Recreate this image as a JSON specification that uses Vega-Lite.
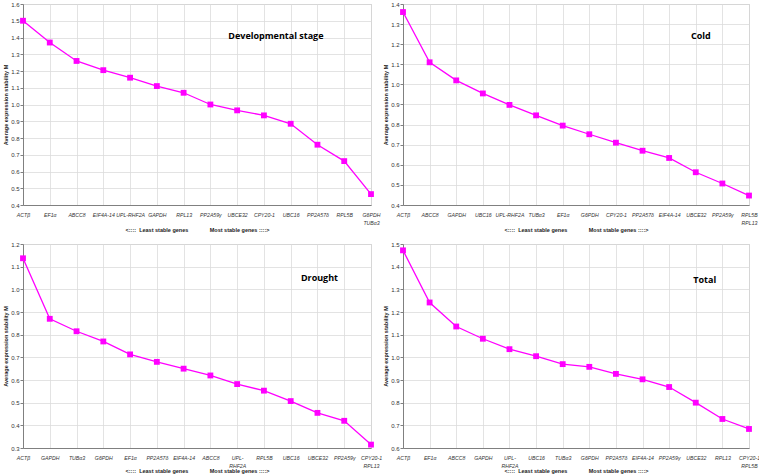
{
  "$schema": "https://vega.github.io/schema/vega-lite/v6.json",
  "padding": {"left": 3, "top": 0, "right": 0, "bottom": 0},
  "background": "white",
  "datasets": {
    "dev": [
      {"gene": "ACTβ", "M": 1.50},
      {"gene": "EF1α", "M": 1.37},
      {"gene": "ABCC8", "M": 1.26},
      {"gene": "EIF4A-14", "M": 1.205},
      {"gene": "UPL-RHF2A", "M": 1.16},
      {"gene": "GAPDH", "M": 1.11},
      {"gene": "RPL13", "M": 1.07},
      {"gene": "PP2A59γ", "M": 1.0},
      {"gene": "UBCE32", "M": 0.965},
      {"gene": "CPY20-1", "M": 0.935},
      {"gene": "UBC16", "M": 0.885},
      {"gene": "PP2A57δ", "M": 0.76},
      {"gene": "RPL5B", "M": 0.662},
      {"gene": "G6PDH|TUBα3", "M": 0.465}
    ],
    "cold": [
      {"gene": "ACTβ", "M": 1.36},
      {"gene": "ABCC8", "M": 1.11},
      {"gene": "GAPDH", "M": 1.02},
      {"gene": "UBC16", "M": 0.955},
      {"gene": "UPL-RHF2A", "M": 0.898},
      {"gene": "TUBα3", "M": 0.846},
      {"gene": "EF1α", "M": 0.795},
      {"gene": "G6PDH", "M": 0.752},
      {"gene": "CPY20-1", "M": 0.71},
      {"gene": "PP2A57δ", "M": 0.67},
      {"gene": "EIF4A-14", "M": 0.634},
      {"gene": "UBCE32", "M": 0.563},
      {"gene": "PP2A59γ", "M": 0.507},
      {"gene": "RPL5B|RPL13", "M": 0.447}
    ],
    "drought": [
      {"gene": "ACTβ", "M": 1.137},
      {"gene": "GAPDH", "M": 0.87},
      {"gene": "TUBα3", "M": 0.815},
      {"gene": "G6PDH", "M": 0.77},
      {"gene": "EF1α", "M": 0.713},
      {"gene": "PP2A57δ", "M": 0.68},
      {"gene": "EIF4A-14", "M": 0.65},
      {"gene": "ABCC8", "M": 0.62},
      {"gene": "UPL-|RHF2A", "M": 0.582},
      {"gene": "RPL5B", "M": 0.553},
      {"gene": "UBC16", "M": 0.507},
      {"gene": "UBCE32", "M": 0.455},
      {"gene": "PP2A59γ", "M": 0.42},
      {"gene": "CPY20-1|RPL13", "M": 0.315}
    ],
    "total": [
      {"gene": "ACTβ", "M": 1.472},
      {"gene": "EF1α", "M": 1.242},
      {"gene": "ABCC8", "M": 1.136},
      {"gene": "GAPDH", "M": 1.082},
      {"gene": "UPL-|RHF2A", "M": 1.036},
      {"gene": "UBC16", "M": 1.005},
      {"gene": "TUBα3", "M": 0.97},
      {"gene": "G6PDH", "M": 0.958},
      {"gene": "PP2A57δ", "M": 0.927},
      {"gene": "EIF4A-14", "M": 0.903},
      {"gene": "PP2A59γ", "M": 0.869},
      {"gene": "UBCE32", "M": 0.80},
      {"gene": "RPL13", "M": 0.728},
      {"gene": "CPY20-1|RPL5B", "M": 0.684}
    ]
  },
  "config": {
    "view": {"stroke": "#bfbfbf", "strokeWidth": 1},
    "axis": {
      "labelFont": "Liberation Sans",
      "labelFontSize": 6,
      "labelColor": "#333333",
      "titleFont": "Liberation Sans",
      "titleFontSize": 5.5,
      "titleFontWeight": "bold",
      "titleColor": "#222222",
      "gridColor": "#dcdcdc",
      "gridWidth": 0.8,
      "domainColor": "#808080",
      "tickColor": "#808080",
      "tickSize": 3
    },
    "axisX": {"labelFontSize": 5.2, "labelFontStyle": "italic", "labelAngle": 0, "labelOverlap": false, "ticks": false, "labelPadding": 7, "titlePadding": 2, "labelLineHeight": 8.5},
    "axisY": {"titlePadding": 2, "labelPadding": 1},
    "point": {"shape": "square", "filled": true, "color": "#ff00ff", "size": 34, "opacity": 1},
    "line": {"color": "#ff00ff", "strokeWidth": 1.3},
    "text": {"font": "Open Sans", "fontWeight": "bold", "fontSize": 9, "fill": "#000000"}
  },
  "columns": 2,
  "align": "each",
  "bounds": "flush",
  "spacing": {"row": 39, "column": 32},
  "concat": [
    {
      "width": 348, "height": 201,
      "data": {"name": "dev"},
      "encoding": {
        "x": {"field": "gene", "type": "nominal", "sort": null,
              "scale": {"type": "point", "padding": 0},
              "axis": {"labelExpr": "split(datum.label, '|')", "grid": true,
                       "title": "<::::\u00a0\u00a0Least stable genes\u00a0\u00a0\u00a0\u00a0\u00a0\u00a0\u00a0\u00a0\u00a0\u00a0\u00a0\u00a0\u00a0\u00a0Most stable genes ::::>"}},
        "y": {"field": "M", "type": "quantitative",
              "scale": {"domain": [0.4, 1.6], "nice": false, "zero": false},
              "axis": {"values": [0.4,0.5,0.6,0.7,0.8,0.9,1.0,1.1,1.2,1.3,1.4,1.5,1.6], "format": ".1f", "title": "Average expression stability M"}}
      },
      "layer": [
        {"mark": "line"},
        {"mark": "point"},
        {"transform": [{"filter": {"field": "gene", "equal": "ACTβ"}}],
         "mark": {"type": "text", "dx": 12, "text": "Developmental stage"},
         "encoding": {"x": {"datum": "CPY20-1"}, "y": {"datum": 1.41}}}
      ]
    },
    {
      "width": 346, "height": 201,
      "data": {"name": "cold"},
      "encoding": {
        "x": {"field": "gene", "type": "nominal", "sort": null,
              "scale": {"type": "point", "padding": 0},
              "axis": {"labelExpr": "split(datum.label, '|')", "grid": true,
                       "title": "<::::\u00a0\u00a0Least stable genes\u00a0\u00a0\u00a0\u00a0\u00a0\u00a0\u00a0\u00a0\u00a0\u00a0\u00a0\u00a0\u00a0\u00a0Most stable genes ::::>"}},
        "y": {"field": "M", "type": "quantitative",
              "scale": {"domain": [0.4, 1.4], "nice": false, "zero": false},
              "axis": {"values": [0.4,0.5,0.6,0.7,0.8,0.9,1.0,1.1,1.2,1.3,1.4], "format": ".1f", "title": "Average expression stability M"}}
      },
      "layer": [
        {"mark": "line"},
        {"mark": "point"},
        {"transform": [{"filter": {"field": "gene", "equal": "ACTβ"}}],
         "mark": {"type": "text", "dx": 5, "text": "Cold"},
         "encoding": {"x": {"datum": "UBCE32"}, "y": {"datum": 1.24}}}
      ]
    },
    {
      "width": 348, "height": 204,
      "data": {"name": "drought"},
      "encoding": {
        "x": {"field": "gene", "type": "nominal", "sort": null,
              "scale": {"type": "point", "padding": 0},
              "axis": {"labelExpr": "split(datum.label, '|')", "grid": true, "titlePadding": 0,
                       "title": "<::::\u00a0\u00a0Least stable genes\u00a0\u00a0\u00a0\u00a0\u00a0\u00a0\u00a0\u00a0\u00a0\u00a0\u00a0\u00a0\u00a0\u00a0Most stable genes ::::>"}},
        "y": {"field": "M", "type": "quantitative",
              "scale": {"domain": [0.3, 1.2], "nice": false, "zero": false},
              "axis": {"values": [0.3,0.4,0.5,0.6,0.7,0.8,0.9,1.0,1.1,1.2], "format": ".1f", "title": "Average expression stability M"}}
      },
      "layer": [
        {"mark": "line"},
        {"mark": "point"},
        {"transform": [{"filter": {"field": "gene", "equal": "ACTβ"}}],
         "mark": {"type": "text", "dx": 2, "text": "Drought"},
         "encoding": {"x": {"datum": "UBCE32"}, "y": {"datum": 1.05}}}
      ]
    },
    {
      "width": 346, "height": 204,
      "data": {"name": "total"},
      "encoding": {
        "x": {"field": "gene", "type": "nominal", "sort": null,
              "scale": {"type": "point", "padding": 0},
              "axis": {"labelExpr": "split(datum.label, '|')", "grid": true, "titlePadding": 0,
                       "title": "<::::\u00a0\u00a0Least stable genes\u00a0\u00a0\u00a0\u00a0\u00a0\u00a0\u00a0\u00a0\u00a0\u00a0\u00a0\u00a0\u00a0\u00a0Most stable genes ::::>"}},
        "y": {"field": "M", "type": "quantitative",
              "scale": {"domain": [0.6, 1.5], "nice": false, "zero": false},
              "axis": {"values": [0.6,0.7,0.8,0.9,1.0,1.1,1.2,1.3,1.4,1.5], "format": ".1f", "title": "Average expression stability M"}}
      },
      "layer": [
        {"mark": "line"},
        {"mark": "point"},
        {"transform": [{"filter": {"field": "gene", "equal": "ACTβ"}}],
         "mark": {"type": "text", "dx": 9, "text": "Total"},
         "encoding": {"x": {"datum": "UBCE32"}, "y": {"datum": 1.34}}}
      ]
    }
  ]
}
